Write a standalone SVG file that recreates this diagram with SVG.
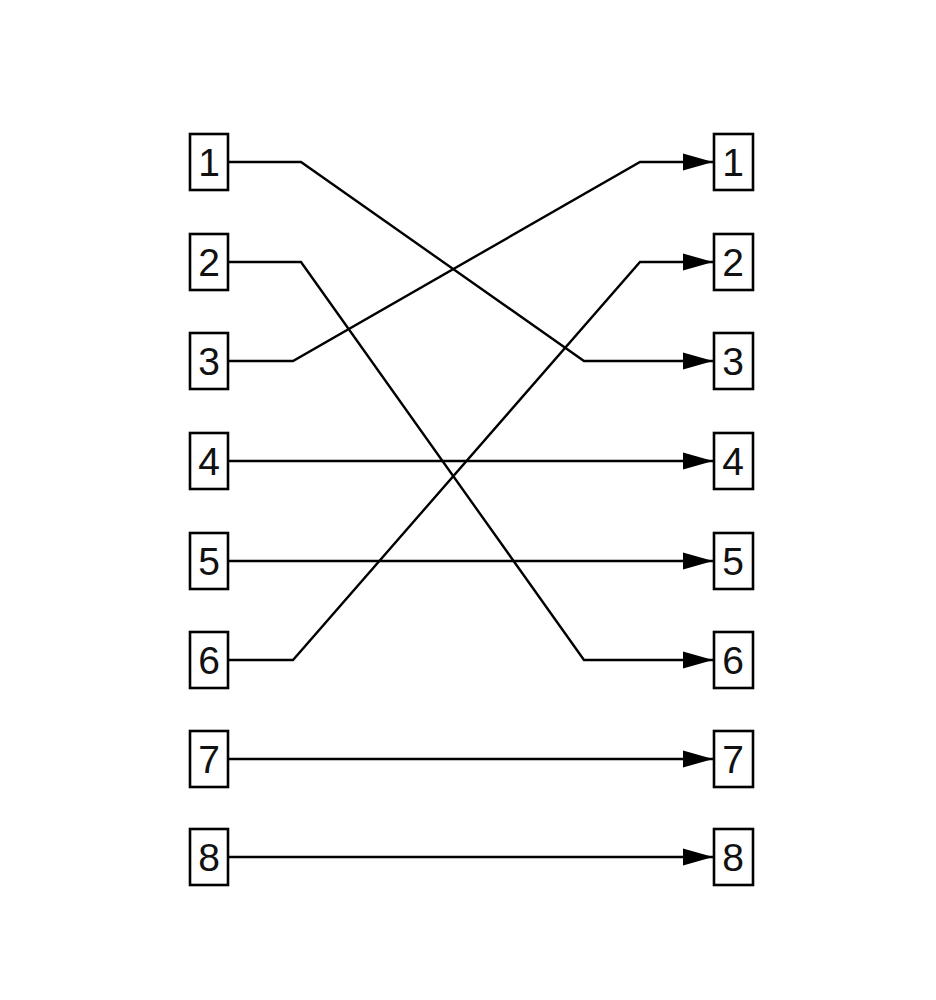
<svg xmlns="http://www.w3.org/2000/svg" width="936" height="1000" viewBox="0 0 936 1000">
<style>
.box{fill:#fff;stroke:#000;stroke-width:2.6}
.lbl{font-family:"Liberation Sans",Arial,sans-serif;font-size:39px;fill:#111;text-anchor:middle}
.e{fill:none;stroke:#000;stroke-width:2.4}
</style>
<defs>
<marker id="ar" markerUnits="userSpaceOnUse" markerWidth="32" markerHeight="20" refX="30" refY="9" orient="auto" viewBox="0 0 32 20">
<path d="M0,0.5 L30,9 L0,17.5 Z" fill="#000"/>
</marker>
</defs>
<rect width="936" height="1000" fill="#fff"/>
<g id="connectors">
<polyline class="e" points="229,162 301,162 584,361 713,361" marker-end="url(#ar)"/>
<polyline class="e" points="229,262 301,262 584,660 713,660" marker-end="url(#ar)"/>
<polyline class="e" points="229,361 293,361 640,162 713,162" marker-end="url(#ar)"/>
<polyline class="e" points="229,461 713,461" marker-end="url(#ar)"/>
<polyline class="e" points="229,561 713,561" marker-end="url(#ar)"/>
<polyline class="e" points="229,660 293,660 640,262 713,262" marker-end="url(#ar)"/>
<polyline class="e" points="229,759 713,759" marker-end="url(#ar)"/>
<polyline class="e" points="229,857 713,857" marker-end="url(#ar)"/>
</g>
<g id="L1"><rect class="box" x="190" y="134" width="38" height="56"/><text class="lbl" x="209" y="176">1</text></g>
<g id="L2"><rect class="box" x="190" y="234" width="38" height="56"/><text class="lbl" x="209" y="276">2</text></g>
<g id="L3"><rect class="box" x="190" y="333" width="38" height="56"/><text class="lbl" x="209" y="375">3</text></g>
<g id="L4"><rect class="box" x="190" y="433" width="38" height="56"/><text class="lbl" x="209" y="475">4</text></g>
<g id="L5"><rect class="box" x="190" y="533" width="38" height="56"/><text class="lbl" x="209" y="575">5</text></g>
<g id="L6"><rect class="box" x="190" y="632" width="38" height="56"/><text class="lbl" x="209" y="674">6</text></g>
<g id="L7"><rect class="box" x="190" y="731" width="38" height="56"/><text class="lbl" x="209" y="773">7</text></g>
<g id="L8"><rect class="box" x="190" y="829" width="38" height="56"/><text class="lbl" x="209" y="871">8</text></g>
<g id="R1"><rect class="box" x="714" y="134" width="39" height="56"/><text class="lbl" x="733" y="176">1</text></g>
<g id="R2"><rect class="box" x="714" y="234" width="39" height="56"/><text class="lbl" x="733" y="276">2</text></g>
<g id="R3"><rect class="box" x="714" y="333" width="39" height="56"/><text class="lbl" x="733" y="375">3</text></g>
<g id="R4"><rect class="box" x="714" y="433" width="39" height="56"/><text class="lbl" x="733" y="475">4</text></g>
<g id="R5"><rect class="box" x="714" y="533" width="39" height="56"/><text class="lbl" x="733" y="575">5</text></g>
<g id="R6"><rect class="box" x="714" y="632" width="39" height="56"/><text class="lbl" x="733" y="674">6</text></g>
<g id="R7"><rect class="box" x="714" y="731" width="39" height="56"/><text class="lbl" x="733" y="773">7</text></g>
<g id="R8"><rect class="box" x="714" y="829" width="39" height="56"/><text class="lbl" x="733" y="871">8</text></g>
</svg>
